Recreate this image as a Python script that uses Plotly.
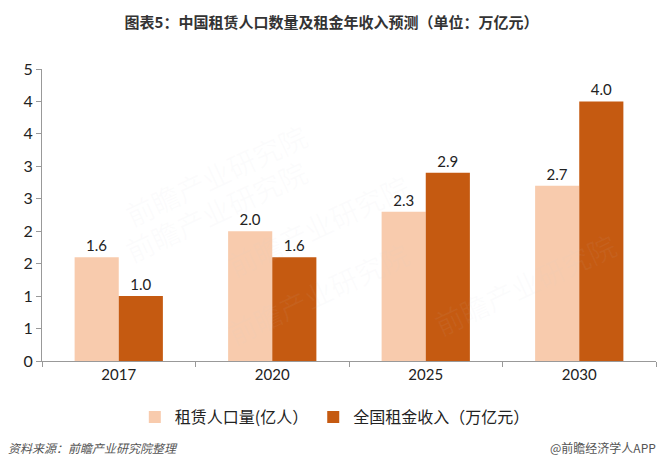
import plotly.graph_objects as go

years = ["2017", "2020", "2025", "2030"]
rent_population = [1.6, 2.0, 2.3, 2.7]
rent_income = [1.0, 1.6, 2.9, 4.0]
series_names = ["租赁人口量(亿人）", "全国租金收入（万亿元）"]
y_tick_values = [0, 0.5, 1.0, 1.5, 2.0, 2.5, 3.0, 3.5, 4.0, 4.5]
y_tick_labels = ["0", "1", "1", "2", "2", "3", "3", "4", "4", "5"]
title_text = "图表5：中国租赁人口数量及租金年收入预测（单位：万亿元）"
source_text = "资料来源：前瞻产业研究院整理"
brand_text = "@前瞻经济学人APP"

FONT = "Lato, 'Noto Sans CJK SC', sans-serif"
CJK = "'Noto Sans CJK SC', sans-serif"

fig = go.Figure()
fig.add_trace(go.Bar(
    x=years, y=rent_population, name=series_names[0],
    marker=dict(color="#F8CBAD", line=dict(width=0)),
    text=[f"{v:.1f}" for v in rent_population], textposition="outside",
    textfont=dict(size=15, color="#222", family=FONT), cliponaxis=False,
))
fig.add_trace(go.Bar(
    x=years, y=rent_income, name=series_names[1],
    marker=dict(color="#C55A11", line=dict(width=0)),
    text=[f"{v:.1f}" for v in rent_income], textposition="outside",
    textfont=dict(size=15, color="#222", family=FONT), cliponaxis=False,
))

# very faint watermarks
for (wx, wy) in [(0.12, 0.85), (0.45, 0.68), (0.12, 0.30), (0.45, 0.02), (0.95, 0.05)]:
    fig.add_annotation(xref="paper", yref="paper", x=wx, y=wy, text="前瞻产业研究院",
                       showarrow=False, textangle=-25,
                       font=dict(size=28, color="rgba(200,205,215,0.06)", family=CJK))

fig.update_layout(
    width=663, height=466,
    margin=dict(l=42, r=7, t=69, b=105),
    paper_bgcolor="white", plot_bgcolor="white",
    barmode="group", bargap=0.425, bargroupgap=0,
    font=dict(family=FONT, color="#222"),
    title=dict(text=f"<b>{title_text}</b>", x=0.5, xanchor="center", y=0.951, yanchor="middle",
               font=dict(size=15, color="#333", family=CJK)),
    showlegend=True,
    legend=dict(orientation="h", xref="container", x=0.505, xanchor="center",
                yref="container", y=0.105, yanchor="middle",
                font=dict(size=16, color="#222", family=CJK),
                itemwidth=30, tracegroupgap=0, bgcolor="rgba(0,0,0,0)"),
    xaxis=dict(type="category", showline=True, linecolor="#999", linewidth=1,
               ticks="outside", tickson="boundaries", ticklen=5, tickcolor="#999",
               tickfont=dict(size=15, color="#222", family=FONT), showgrid=False),
    yaxis=dict(range=[0, 4.5], tickvals=y_tick_values, ticktext=y_tick_labels,
               showline=True, linecolor="#999", linewidth=1, ticks="outside",
               ticklen=5, tickcolor="#999", showgrid=False, zeroline=False,
               tickfont=dict(size=16, color="#222", family=FONT)),
)

fig.add_annotation(xref="paper", yref="paper", x=-0.058, y=-0.295, xanchor="left", yanchor="middle",
                   text=f"<i>{source_text}</i>", showarrow=False,
                   font=dict(size=12, color="#555", family=CJK))
fig.add_annotation(xref="paper", yref="paper", x=1.003, y=-0.295, xanchor="right", yanchor="middle",
                   text=brand_text, showarrow=False,
                   font=dict(size=12, color="#555", family=CJK))

fig.write_html("out.html", config={"displayModeBar": False},
               post_script="document.body.style.margin='0';document.body.style.overflow='hidden';")
